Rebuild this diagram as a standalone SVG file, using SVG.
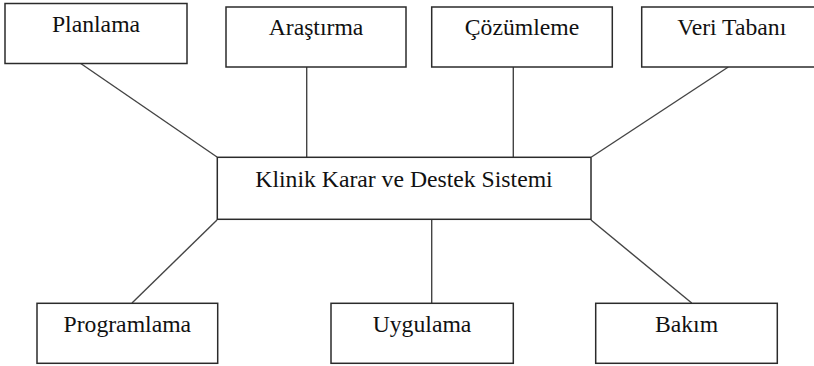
<svg xmlns="http://www.w3.org/2000/svg" width="814" height="366" viewBox="0 0 814 366">
<style>
.box{fill:#ffffff;stroke:#2b2b2b;stroke-width:1.5}
.lbl{font-family:'Liberation Serif','Times New Roman',serif;font-size:23.7px;fill:#111111;text-anchor:middle}
.conn line{stroke:#444444;stroke-width:1.4}
</style>
<rect width="814" height="366" fill="#ffffff"/>
<g id="connectors" class="conn">
<line x1="80" y1="63" x2="217" y2="157"/>
<line x1="306.7" y1="67" x2="306.7" y2="157"/>
<line x1="513.3" y1="67" x2="513.3" y2="157"/>
<line x1="728.3" y1="67" x2="591.5" y2="157"/>
<line x1="217" y1="220" x2="132" y2="303"/>
<line x1="431.7" y1="220" x2="431.7" y2="303"/>
<line x1="591" y1="220" x2="691.7" y2="303"/>
</g>
<g id="planlama"><rect class="box" x="5" y="3.5" width="182" height="60"/><text class="lbl" x="96" y="32">Planlama</text></g>
<g id="arastirma"><rect class="box" x="226" y="7" width="180" height="60"/><text class="lbl" x="316" y="35">Araştırma</text></g>
<g id="cozumleme"><rect class="box" x="431.7" y="7" width="180.6" height="60"/><text class="lbl" x="522" y="35">Çözümleme</text></g>
<g id="veritabani"><rect class="box" x="641.7" y="7" width="180" height="60"/><text class="lbl" x="731.7" y="35">Veri Tabanı</text></g>
<g id="kkds"><rect class="box" x="217.3" y="157.3" width="373.7" height="62"/><text class="lbl" x="404" y="187">Klinik Karar ve Destek Sistemi</text></g>
<g id="programlama"><rect class="box" x="37" y="303.3" width="180.7" height="60"/><text class="lbl" x="127.3" y="332">Programlama</text></g>
<g id="uygulama"><rect class="box" x="331" y="303.3" width="182.3" height="60"/><text class="lbl" x="422" y="332">Uygulama</text></g>
<g id="bakim"><rect class="box" x="595.7" y="303.3" width="181.6" height="60"/><text class="lbl" x="686.5" y="332">Bakım</text></g>
</svg>
